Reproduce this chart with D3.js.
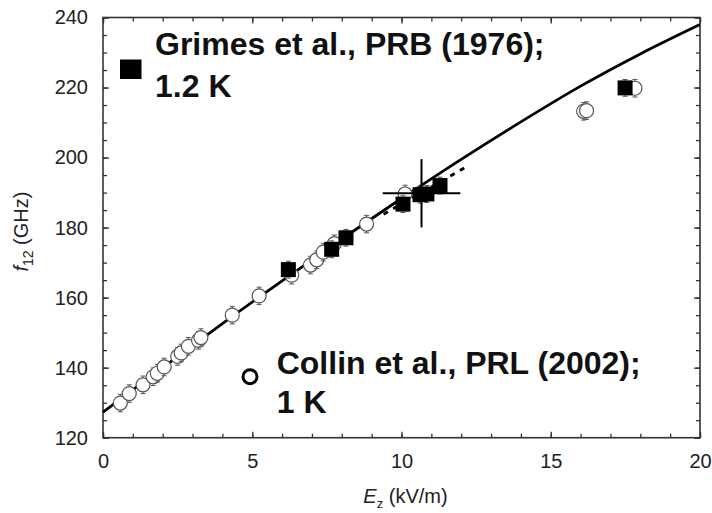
<!DOCTYPE html>
<html>
<head>
<meta charset="utf-8">
<script src="https://cdn.jsdelivr.net/npm/d3@7"></script>
<style>
  html, body { margin: 0; padding: 0; background: #fff; }
  svg { display: block; font-family: "Liberation Sans", Arial, Helvetica, sans-serif; }
</style>
</head>
<body>
<div id="chart"></div>
<script>
// theory curve (solid) and low-field fit (dashed)
const theoryE = [0, 2, 4, 6, 8, 10, 12, 14, 16, 18, 20];
const theoryF = [127.3, 140.0, 152.6, 164.8, 176.7, 188.3, 199.5, 210.2, 220.4, 229.6, 238.0];
const dashE = [9.4, 12.2];
const dashF = [183.8, 197.5];

// Collin et al., PRL (2002); 1 K  -- open circles
const collinE = [0.58, 0.88, 1.34, 1.68, 1.82, 2.05, 2.5, 2.62, 2.86, 3.2, 3.28, 4.33, 5.23,
                 6.32, 6.95, 7.16, 7.38, 7.75, 8.83, 10.12, 16.1, 16.2, 17.82];
const collinF = [129.9, 132.6, 135.1, 137.4, 138.4, 140.2, 143.2, 144.2, 146.1, 147.8, 148.6, 155.0, 160.5,
                 166.4, 169.3, 170.8, 173.0, 175.4, 181.0, 189.6, 213.2, 213.4, 219.8];
const collinErr = 2.5;

// Grimes et al., PRB (1976); 1.2 K  -- filled squares
const grimesE = [6.21, 7.66, 8.14, 10.05, 10.62, 10.85, 11.29, 17.49];
const grimesF = [168.0, 173.8, 177.1, 186.7, 189.4, 189.6, 192.0, 219.9];
const grimesErr = 2.4;

// single large error cross
const crossE = [10.67];
const crossF = [189.8];
const crossDx = [1.3];
const crossDf = [9.75];

const xTicks = [0, 5, 10, 15, 20];
const yTicks = [120, 140, 160, 180, 200, 220, 240];

const width = 712, height = 513;
const margin = {top: 17.5, right: 12, bottom: 75.3, left: 103};

const svg = d3.select("#chart").append("svg")
  .attr("width", width)
  .attr("height", height);

const x = d3.scaleLinear().domain([0, 20]).range([margin.left, width - margin.right]);
const y = d3.scaleLinear().domain([120, 240]).range([height - margin.bottom, margin.top]);

const axisColor = "#333";

// frame
svg.append("rect")
  .attr("x", x(0)).attr("y", y(240))
  .attr("width", x(20) - x(0)).attr("height", y(120) - y(240))
  .attr("fill", "none").attr("stroke", axisColor).attr("stroke-width", 1.6);

// axes: major + minor ticks, all inward, on four sides
function styleAxis(g) {
  g.select(".domain").remove();
  g.selectAll(".tick line").attr("stroke", axisColor).attr("stroke-width", 1.3);
  g.selectAll(".tick text").attr("fill", "#222").style("font-size", "20px");
}

svg.append("g").attr("transform", `translate(0,${y(120)})`)
  .call(d3.axisBottom(x).tickValues(d3.range(0, 21, 1)).tickFormat("").tickSize(-4)).call(styleAxis);
svg.append("g").attr("transform", `translate(0,${y(120)})`)
  .call(d3.axisBottom(x).tickValues(xTicks).tickFormat(d3.format("d")).tickSize(-6).tickPadding(16))
  .call(styleAxis);

svg.append("g").attr("transform", `translate(0,${y(240)})`)
  .call(d3.axisTop(x).tickValues(d3.range(0, 21, 1)).tickFormat("").tickSize(-4)).call(styleAxis);
svg.append("g").attr("transform", `translate(0,${y(240)})`)
  .call(d3.axisTop(x).tickValues(xTicks).tickFormat("").tickSize(-6)).call(styleAxis);

svg.append("g").attr("transform", `translate(${x(0)},0)`)
  .call(d3.axisLeft(y).tickValues(d3.range(120, 241, 5)).tickFormat("").tickSize(-4)).call(styleAxis);
svg.append("g").attr("transform", `translate(${x(0)},0)`)
  .call(d3.axisLeft(y).tickValues(yTicks).tickFormat(d3.format("d")).tickSize(-6).tickPadding(15))
  .call(styleAxis);

svg.append("g").attr("transform", `translate(${x(20)},0)`)
  .call(d3.axisRight(y).tickValues(d3.range(120, 241, 5)).tickFormat("").tickSize(-4)).call(styleAxis);
svg.append("g").attr("transform", `translate(${x(20)},0)`)
  .call(d3.axisRight(y).tickValues(yTicks).tickFormat("").tickSize(-6)).call(styleAxis);

// axis titles
const xLabel = svg.append("text")
  .attr("x", (x(0) + x(20)) / 2 + 4).attr("y", 503)
  .attr("text-anchor", "middle")
  .attr("fill", "#222")
  .style("font-size", "20px");
xLabel.append("tspan").style("font-style", "italic").text("E");
xLabel.append("tspan").attr("dy", 5).style("font-size", "13px").text("z");
xLabel.append("tspan").attr("dy", -5).text(" (kV/m)");

const yLabel = svg.append("text")
  .attr("transform", `translate(27.5,${(y(120) + y(240)) / 2 + 4}) rotate(-90)`)
  .attr("text-anchor", "middle")
  .attr("fill", "#222")
  .style("font-size", "20px");
yLabel.append("tspan").style("font-style", "italic").text("f");
yLabel.append("tspan").attr("dy", 5).style("font-size", "14px").text("12");
yLabel.append("tspan").attr("dy", -5).text(" (GHz)");

// curves
const line = d3.line().x(d => x(d[0])).y(d => y(d[1])).curve(d3.curveMonotoneX);

svg.append("path")
  .datum(d3.zip(theoryE, theoryF))
  .attr("d", line)
  .attr("fill", "none").attr("stroke", "#000").attr("stroke-width", 2.8);

svg.append("path")
  .datum(d3.zip(dashE, dashF))
  .attr("d", line)
  .attr("fill", "none").attr("stroke", "#000").attr("stroke-width", 2.8)
  .attr("stroke-dasharray", "5,6");

// error bars helper
function errorBars(g, xs, ys, err, cap) {
  const data = d3.zip(xs, ys);
  g.selectAll("line.bar").data(data).join("line").attr("class", "bar")
    .attr("x1", d => x(d[0])).attr("x2", d => x(d[0]))
    .attr("y1", d => y(d[1] - err)).attr("y2", d => y(d[1] + err));
  g.selectAll("line.capTop").data(data).join("line").attr("class", "capTop")
    .attr("x1", d => x(d[0]) - cap).attr("x2", d => x(d[0]) + cap)
    .attr("y1", d => y(d[1] + err)).attr("y2", d => y(d[1] + err));
  g.selectAll("line.capBot").data(data).join("line").attr("class", "capBot")
    .attr("x1", d => x(d[0]) - cap).attr("x2", d => x(d[0]) + cap)
    .attr("y1", d => y(d[1] - err)).attr("y2", d => y(d[1] - err));
}

// open circles, each with its own error bar
const collin = d3.zip(collinE, collinF);
const cg = svg.append("g");
collin.forEach(d => {
  const one = cg.append("g").attr("stroke", "#555").attr("stroke-width", 1);
  errorBars(one, [d[0]], [d[1]], collinErr, 2.5);
  one.append("circle")
    .attr("cx", x(d[0])).attr("cy", y(d[1])).attr("r", 7)
    .attr("fill", "#fff").attr("stroke", "#555").attr("stroke-width", 1.2);
});

// filled squares
const sq = 15;
const sg = svg.append("g").attr("stroke", "#555").attr("stroke-width", 1);
errorBars(sg, grimesE, grimesF, grimesErr, 2.5);
svg.append("g").selectAll("rect")
  .data(d3.zip(grimesE, grimesF))
  .join("rect")
  .attr("x", d => x(d[0]) - sq / 2).attr("y", d => y(d[1]) - sq / 2)
  .attr("width", sq).attr("height", sq)
  .attr("fill", "#000");

// big error cross
const cross = d3.zip(crossE, crossF, crossDx, crossDf);
const xg = svg.append("g").attr("stroke", "#000").attr("stroke-width", 2);
xg.selectAll("line.h").data(cross).join("line").attr("class", "h")
  .attr("x1", d => x(d[0] - d[2])).attr("x2", d => x(d[0] + d[2]))
  .attr("y1", d => y(d[1])).attr("y2", d => y(d[1]));
xg.selectAll("line.v").data(cross).join("line").attr("class", "v")
  .attr("x1", d => x(d[0])).attr("x2", d => x(d[0]))
  .attr("y1", d => y(d[1] - d[3])).attr("y2", d => y(d[1] + d[3]));

// legends
const legendFont = "32px";
svg.append("rect")
  .attr("x", 120).attr("y", 59.5).attr("width", 21.5).attr("height", 19.5)
  .attr("fill", "#000");
const t1 = svg.append("text").attr("x", 155).attr("y", 55)
  .attr("fill", "#111").style("font-size", legendFont).style("font-weight", "bold");
t1.append("tspan").text("Grimes et al., PRB (1976);");
t1.append("tspan").attr("x", 155).attr("y", 96.7).text("1.2 K");

svg.append("circle")
  .attr("cx", 250).attr("cy", 376.7).attr("r", 7)
  .attr("fill", "none").attr("stroke", "#000").attr("stroke-width", 3);
const t2 = svg.append("text").attr("x", 276.7).attr("y", 374)
  .attr("fill", "#111").style("font-size", legendFont).style("font-weight", "bold");
t2.append("tspan").text("Collin et al., PRL (2002);");
t2.append("tspan").attr("x", 276.7).attr("y", 413.3).text("1 K");
</script>
</body>
</html>
